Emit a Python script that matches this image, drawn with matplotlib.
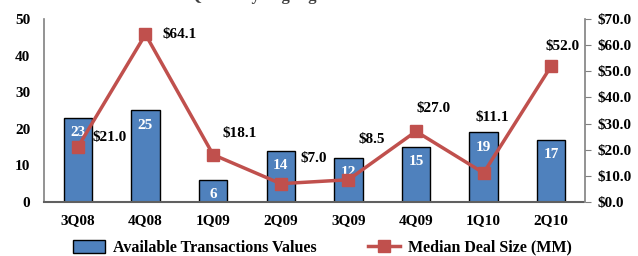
import matplotlib.pyplot as plt
import numpy as np
from matplotlib.lines import Line2D
from matplotlib.patches import Patch

quarters = ['3Q08', '4Q08', '1Q09', '2Q09', '3Q09', '4Q09', '1Q10', '2Q10']
transactions = [23, 25, 6, 14, 12, 15, 19, 17]
median_size = [21.0, 64.1, 18.1, 7.0, 8.5, 27.0, 11.1, 52.0]
# offsets (points) of the $ labels from each marker
lab_dx = [10.5, 12, 6.5, 14, 7, 0.5, -6, -4]
lab_dy = [7, 0, 15, 18, 29, 16.5, 40, 14]

plt.rcParams['font.family'] = ['Liberation Serif', 'DejaVu Serif']
plt.rcParams['font.weight'] = 'bold'

blue = '#4F81BD'
red = '#C0504D'

fig = plt.figure(figsize=(6.38, 2.56), dpi=100)
ax = fig.add_axes([0.069, 0.211, 0.848, 0.715])
x = np.arange(len(quarters))

ax.bar(x, transactions, width=0.42, color=blue, edgecolor='black', linewidth=1.0, zorder=2)
for i, v in enumerate(transactions):
    ax.annotate(str(v), (x[i], v), xytext=(0, -10.5), textcoords='offset points',
                ha='center', va='center', color='white', fontsize=11, fontweight='bold', zorder=5)

ax.set_xlim(-0.5, 7.5)
ax.set_ylim(0, 50)
ax.set_yticks(range(0, 51, 10))
ax.set_xticks(x)
ax.set_xticklabels(quarters)
ax.tick_params(axis='x', length=0, pad=9, labelsize=11)
ax.tick_params(axis='y', length=0, pad=10, labelsize=11)
for s in ['top', 'right']:
    ax.spines[s].set_visible(False)
ax.spines['left'].set_color('#808080')
ax.spines['left'].set_linewidth(1.2)
ax.spines['bottom'].set_color('#606060')
ax.spines['bottom'].set_linestyle((0, (1, 1)))
ax.spines['bottom'].set_linewidth(1.5)

ax2 = ax.twinx()
ax2.plot(x, median_size, color=red, linewidth=2.5, marker='s', markersize=8,
         markerfacecolor=red, markeredgecolor=red, zorder=4)
ax2.set_ylim(0, 70)
ax2.set_yticks(range(0, 71, 10))
ax2.set_yticklabels(['$%d.0' % v for v in range(0, 71, 10)])
ax2.tick_params(axis='y', length=4, color='#808080', labelsize=11, pad=5)
for s in ['top', 'left', 'bottom']:
    ax2.spines[s].set_visible(False)
ax2.spines['right'].set_color('#808080')
ax2.spines['right'].set_linewidth(1.2)

for i, v in enumerate(median_size):
    ax2.annotate('$%.1f' % v, (x[i], v), xytext=(lab_dx[i], lab_dy[i]),
                 textcoords='offset points', ha='left', va='center',
                 fontsize=11, fontweight='bold', color='black')

fig.text(0.545, 1 - 0.5 / 256, 'Quarterly Highlights and Median Deal Value',
         ha='center', va='baseline', fontsize=12, fontweight='bold', color='#404040')

handles = [Patch(facecolor=blue, edgecolor='black', linewidth=1.0),
           Line2D([0], [0], color=red, linewidth=2.5, marker='s', markersize=8)]
fig.legend(handles, ['Available Transactions Values', 'Median Deal Size (MM)'],
           loc='center', bbox_to_anchor=(0.505, 0.032), ncol=2, frameon=False,
           fontsize=11.5, handlelength=2.0, handleheight=0.9, columnspacing=3.2,
           handletextpad=0.5)

fig.savefig('out.png', dpi=100)
